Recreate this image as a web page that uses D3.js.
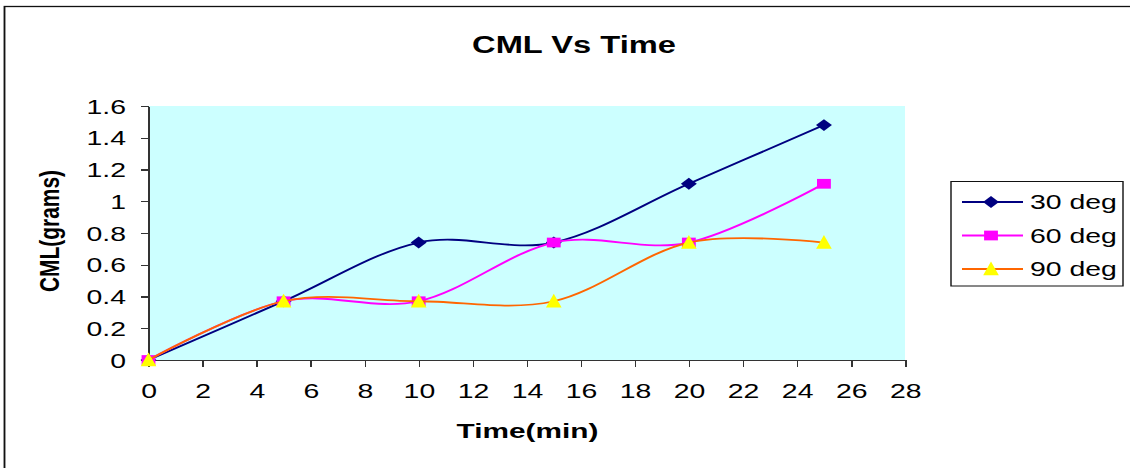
<!DOCTYPE html>
<html>
<head>
<meta charset="utf-8">
<script src="https://cdn.jsdelivr.net/npm/d3@7"></script>
<style>
  body { margin: 0; background: #fff; }
  svg { display: block; font-family: "Liberation Sans", Arial, sans-serif; }
  .axis path, .axis line { stroke: #333; stroke-width: 1.2; shape-rendering: crispEdges; }
  .axis text { font-size: 20px; fill: #000; }
</style>
</head>
<body>
<div id="chart"></div>
<script>
//-----------------------------DATA-----------------------------//
const times = [0, 5, 10, 15, 20, 25];
const deg30 = [0, 0.37, 0.74, 0.74, 1.11, 1.48];
const deg60 = [0, 0.37, 0.37, 0.74, 0.74, 1.11];
const deg90 = [0, 0.37, 0.37, 0.37, 0.74, 0.74];
const seriesNames = ["30 deg", "60 deg", "90 deg"];
const xTickValues = [0, 2, 4, 6, 8, 10, 12, 14, 16, 18, 20, 22, 24, 26, 28];
const yTickValues = [0, 0.2, 0.4, 0.6, 0.8, 1, 1.2, 1.4, 1.6];

// the original picture is stretched sideways, so draw in a narrower box and stretch it
const SX = 1.42;
const width = 1130;
const height = 468;
const VW = width / SX;
const sx = (x) => x / SX;

const svg = d3
  .select("#chart")
  .append("svg")
  .attr("width", width)
  .attr("height", height)
  .attr("viewBox", "0 0 " + VW + " " + height)
  .attr("preserveAspectRatio", "none");

// chart border (only top and left show inside the picture)
svg
  .append("rect")
  .attr("x", sx(4.5))
  .attr("y", 6.5)
  .attr("width", VW)
  .attr("height", height)
  .attr("fill", "none")
  .attr("stroke", "#111")
  .attr("stroke-width", 1.3);

//----------------------------SCALES----------------------------//
const plotLeft = sx(148.5);
const plotRight = sx(905);
const plotTop = 106;
const plotBottom = 360;

const xScale = d3.scaleLinear().domain([0, 28]).range([plotLeft, plotRight]);
const yScale = d3.scaleLinear().domain([0, 1.6]).range([plotBottom, plotTop]);

svg
  .append("rect")
  .attr("x", plotLeft)
  .attr("y", plotTop)
  .attr("width", plotRight - plotLeft)
  .attr("height", plotBottom - plotTop)
  .attr("fill", "#CCFFFF");

//-----------------------------AXES-----------------------------//
const xaxis = d3
  .axisBottom(xScale)
  .tickValues(xTickValues)
  .tickSize(7)
  .tickPadding(16.8)
  .tickSizeOuter(0)
  .tickFormat(d3.format("d"));

const yaxis = d3
  .axisLeft(yScale)
  .tickValues(yTickValues)
  .tickSize(sx(8))
  .tickPadding(sx(14.5))
  .tickSizeOuter(0)
  .tickFormat((d) => String(+d.toFixed(1)));

svg
  .append("g")
  .attr("class", "axis")
  .attr("transform", "translate(0," + plotBottom + ")")
  .call(xaxis);

svg
  .append("g")
  .attr("class", "axis")
  .attr("transform", "translate(" + plotLeft + ",0)")
  .call(yaxis)
  .selectAll("text")
  .attr("dy", "0.36em");

//----------------------------TITLES----------------------------//
svg
  .append("text")
  .attr("x", sx(574))
  .attr("y", 53)
  .attr("text-anchor", "middle")
  .style("font-size", "23px")
  .style("font-weight", "bold")
  .text("CML Vs Time");

svg
  .append("text")
  .attr("x", sx(527.5))
  .attr("y", 438)
  .attr("text-anchor", "middle")
  .style("font-size", "21px")
  .style("font-weight", "bold")
  .text("Time(min)");

svg
  .append("text")
  .attr("transform", "translate(" + sx(59) + ",231) rotate(-90)")
  .attr("text-anchor", "middle")
  .attr("textLength", 122)
  .attr("lengthAdjust", "spacingAndGlyphs")
  .style("font-size", "19px")
  .style("font-weight", "bold")
  .text("CML(grams)");

//----------------------------MARKERS---------------------------//
const diamond = {
  draw(ctx, size) {
    const r = Math.sqrt(size) / 2;
    ctx.moveTo(0, -r);
    ctx.lineTo(r * 0.95, 0);
    ctx.lineTo(0, r);
    ctx.lineTo(-r * 0.95, 0);
    ctx.closePath();
  },
};
const triangle = {
  draw(ctx, size) {
    const h = Math.sqrt(size);
    ctx.moveTo(0, -h * 0.55);
    ctx.lineTo(h * 0.4, h * 0.45);
    ctx.lineTo(-h * 0.4, h * 0.45);
    ctx.closePath();
  },
};

const series = [
  { name: seriesNames[0], values: deg30, line: "#000080", fill: "#000080", symbol: d3.symbol(diamond, 140) },
  { name: seriesNames[1], values: deg60, line: "#FF00FF", fill: "#FF00FF", symbol: d3.symbol(d3.symbolSquare, 95) },
  { name: seriesNames[2], values: deg90, line: "#FF6600", fill: "#FFFF00", symbol: d3.symbol(triangle, 190) },
];

//----------------------------LINES-----------------------------//
const line = d3
  .line()
  .x((d) => xScale(d.t))
  .y((d) => yScale(d.v))
  .curve(d3.curveCardinal.tension(0));

series.forEach((s) => {
  const pts = times.map((t, i) => ({ t: t, v: s.values[i] }));
  const g = svg.append("g");
  g.append("path")
    .attr("d", line(pts))
    .attr("fill", "none")
    .attr("stroke", s.line)
    .attr("stroke-width", 1.8);
  g.selectAll("path.mark")
    .data(pts)
    .enter()
    .append("path")
    .attr("class", "mark")
    .attr("transform", (d) => "translate(" + xScale(d.t) + "," + yScale(d.v) + ")")
    .attr("d", s.symbol)
    .attr("fill", s.fill);
});

//----------------------------LEGEND----------------------------//
const legend = svg.append("g");
legend
  .append("rect")
  .attr("x", sx(951))
  .attr("y", 181.5)
  .attr("width", sx(1123) - sx(951))
  .attr("height", 104.5)
  .attr("fill", "#fff")
  .attr("stroke", "#111")
  .attr("stroke-width", 1);

const rows = legend
  .selectAll("g.row")
  .data(series)
  .enter()
  .append("g")
  .attr("class", "row")
  .attr("transform", (d, i) => "translate(0," + (202 + i * 33.5) + ")");

rows
  .append("line")
  .attr("x1", sx(962))
  .attr("x2", sx(1023))
  .attr("stroke", (d) => d.line)
  .attr("stroke-width", 1.8);

rows
  .append("path")
  .attr("transform", "translate(" + sx(991) + ",0)")
  .attr("d", (d) => d.symbol())
  .attr("fill", (d) => d.fill);

rows
  .append("text")
  .attr("x", sx(1030))
  .attr("y", 7)
  .style("font-size", "20px")
  .text((d) => d.name);
</script>
</body>
</html>
